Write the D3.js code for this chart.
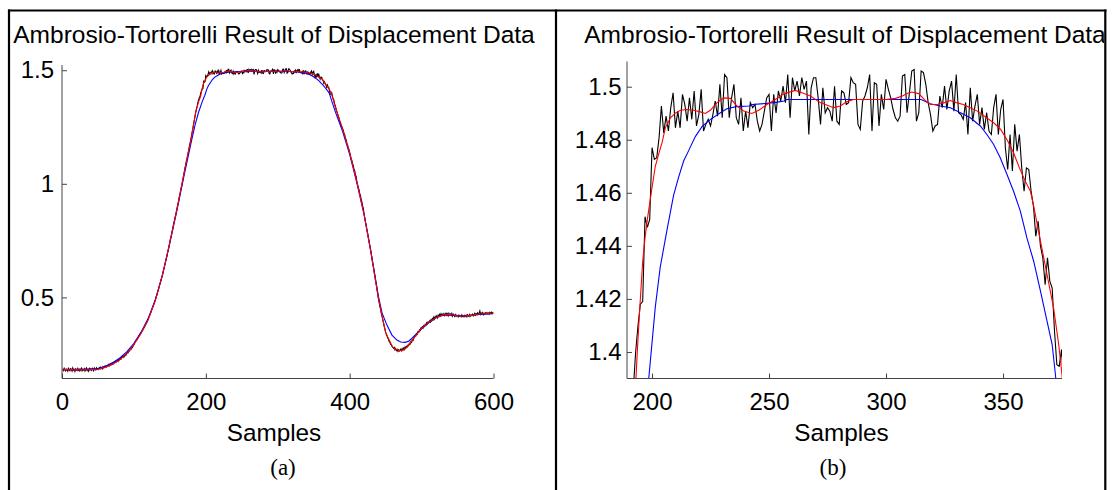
<!DOCTYPE html>
<html><head><meta charset="utf-8">
<script src="https://cdn.jsdelivr.net/npm/d3@7"></script>
<style>
html,body{margin:0;padding:0;background:#fff;}
svg{display:block;}
</style></head><body>
<svg id="chart" width="1113" height="490"></svg>
<script>
// ---------------- DATA ----------------
const chartTitle = "Ambrosio-Tortorelli Result of Displacement Data";
const xAxisLabel = "Samples";
const panelCaptions = ["(a)", "(b)"];

// raw displacement data, samples 1..600 (black)
const rawDisplacement = [
0.185,0.178,0.188,0.180,0.176,0.184,0.181,0.175,0.187,0.180,
0.177,0.186,0.183,0.176,0.189,0.179,0.182,0.174,0.185,0.181,
0.178,0.187,0.180,0.176,0.184,0.179,0.188,0.177,0.183,0.180,
0.186,0.176,0.183,0.189,0.178,0.182,0.175,0.187,0.181,0.184,
0.179,0.188,0.182,0.177,0.189,0.183,0.180,0.190,0.184,0.187,
0.183,0.191,0.186,0.193,0.188,0.185,0.195,0.190,0.197,0.193,
0.199,0.194,0.201,0.198,0.205,0.199,0.207,0.203,0.210,0.206,
0.213,0.208,0.216,0.219,0.214,0.221,0.224,0.218,0.227,0.225,
0.232,0.228,0.235,0.240,0.236,0.243,0.239,0.248,0.246,0.253,
0.259,0.257,0.266,0.264,0.272,0.271,0.280,0.279,0.287,0.292,
0.300,0.305,0.310,0.313,0.320,0.323,0.331,0.333,0.341,0.344,
0.352,0.354,0.362,0.366,0.372,0.377,0.385,0.390,0.397,0.404,
0.415,0.420,0.430,0.436,0.447,0.455,0.462,0.473,0.481,0.491,
0.503,0.510,0.524,0.532,0.545,0.557,0.566,0.580,0.590,0.604,
0.619,0.628,0.644,0.656,0.671,0.682,0.699,0.710,0.727,0.744,
0.761,0.772,0.790,0.802,0.820,0.833,0.849,0.862,0.878,0.893,
0.910,0.921,0.941,0.953,0.972,0.985,1.001,1.016,1.035,1.052,
1.070,1.082,1.101,1.113,1.131,1.144,1.163,1.176,1.193,1.209,
1.228,1.244,1.264,1.281,1.298,1.317,1.331,1.343,1.358,1.370,
1.379,1.386,1.400,1.410,1.418,1.419,1.451,1.447,1.450,1.477,
1.4726,1.4732,1.4807,1.4927,1.4826,1.4889,1.4833,1.4921,1.4977,1.4845,
1.4908,1.4845,1.4971,1.4933,1.4870,1.4958,1.4877,1.4984,1.4852,1.4895,
1.4990,1.4833,1.4858,1.4877,1.4852,1.4895,1.4946,1.4889,1.5009,1.4883,
1.5046,1.5034,1.4883,1.4958,1.5009,1.4883,1.4858,1.4958,1.4833,1.4908,
1.4845,1.4940,1.4921,1.4933,1.4870,1.4833,1.4858,1.4908,1.4958,1.4971,
1.4833,1.4971,1.4901,1.4984,1.4946,1.5002,1.4940,1.5046,1.4883,1.5034,
1.4984,1.5021,1.4965,1.5034,1.4990,1.5021,1.4820,1.4996,1.5034,1.5034,
1.4958,1.4858,1.4996,1.4901,1.4921,1.4908,1.4870,1.5002,1.4870,1.4858,
1.4984,1.4977,1.4933,1.4940,1.5034,1.5015,1.5009,1.4858,1.4839,1.4946,
1.4965,1.4996,1.5046,1.4833,1.5015,1.5009,1.4852,1.4971,1.4914,1.5028,
1.4990,1.4958,1.4914,1.4883,1.4870,1.4889,1.5040,1.5046,1.4902,1.4977,
1.5059,1.5065,1.4870,1.4902,1.5059,1.5053,1.5009,1.4940,1.4895,1.4833,
1.4852,1.4858,1.4965,1.4921,1.5002,1.4914,1.4984,1.5021,1.4908,1.5046,
1.4902,1.4895,1.4877,1.4940,1.4820,1.4996,1.4870,1.4927,1.4971,1.4858,
1.4921,1.4839,1.4902,1.4833,1.4820,1.4921,1.4971,1.4820,1.4914,1.4952,
1.4770,1.4688,1.4820,1.4682,1.4858,1.4757,1.4820,1.4694,1.4606,1.4694,
1.4688,1.4606,1.4550,1.4436,1.4493,1.4399,1.4355,1.4254,1.4355,1.4267,
1.4241,1.4078,1.3952,1.3946,1.4009,1.386,1.374,1.369,1.352,1.344,
1.331,1.318,1.312,1.297,1.291,1.277,1.271,1.256,1.252,1.244,
1.236,1.222,1.217,1.201,1.195,1.179,1.172,1.158,1.151,1.138,
1.126,1.110,1.104,1.088,1.081,1.064,1.058,1.040,1.033,1.010,
0.997,0.982,0.974,0.956,0.949,0.931,0.921,0.902,0.893,0.867,
0.850,0.831,0.816,0.797,0.782,0.763,0.747,0.727,0.711,0.690,
0.672,0.650,0.634,0.612,0.595,0.573,0.556,0.535,0.516,0.495,
0.478,0.462,0.447,0.430,0.417,0.401,0.388,0.372,0.361,0.346,
0.337,0.330,0.321,0.316,0.305,0.302,0.293,0.291,0.283,0.281,
0.276,0.280,0.269,0.275,0.266,0.271,0.263,0.270,0.264,0.267,
0.272,0.265,0.274,0.268,0.277,0.271,0.282,0.276,0.285,0.282,
0.290,0.287,0.297,0.294,0.305,0.302,0.312,0.310,0.320,0.324,
0.332,0.330,0.341,0.338,0.349,0.347,0.357,0.354,0.365,0.364,
0.371,0.365,0.376,0.372,0.381,0.377,0.388,0.383,0.392,0.389,
0.396,0.391,0.401,0.396,0.407,0.402,0.413,0.405,0.416,0.411,
0.418,0.410,0.421,0.416,0.425,0.419,0.428,0.421,0.426,0.423,
0.429,0.420,0.427,0.431,0.422,0.428,0.419,0.430,0.424,0.427,
0.421,0.429,0.418,0.426,0.420,0.416,0.424,0.417,0.422,0.418,
0.414,0.422,0.417,0.420,0.415,0.423,0.416,0.419,0.414,0.421,
0.417,0.422,0.415,0.424,0.419,0.416,0.425,0.418,0.423,0.420,
0.426,0.419,0.425,0.430,0.422,0.428,0.424,0.432,0.426,0.430,
0.440,0.425,0.431,0.427,0.433,0.424,0.430,0.426,0.432,0.428,
0.433,0.427,0.431,0.426,0.434,0.429,0.435,0.428,0.433,0.431
];

// Ambrosio-Tortorelli result (red): sample positions and values
const atSamples = [1,20,40,50,60,70,80,90,100,110,120,130,140,150,160,170,180,186,190,192,
193,194,195,196,197,198,199,200,201.4,202.8,204.3,205.7,207.8,209.9,212.1,214.9,217.8,220.6,222.8,224.9,
227.8,230.6,233.5,236.3,239.2,242.7,245.6,249.1,252.7,256.3,261.2,264.1,267.7,271.9,277.6,280.5,283,286,300,304,
307,309,311,314,317,319,322,325,327.5,330,333,336,339,342,346,349,352,354.5,357,359.5,
361.7,363.1,366,368.8,371.6,373.8,375.2,376,380,390,400,410,420,430,440,450,460,465,470,475,
480,490,500,510,520,530,540,550,560,570,580,590,600];
const atValues = [0.182,0.181,0.182,0.184,0.192,0.206,0.225,0.251,0.292,0.342,0.404,0.489,0.602,0.744,0.891,1.052,1.207,1.316,1.362,1.378,
1.388,1.405,1.420,1.434,1.443,1.450,1.456,1.462,1.470,1.4745,1.479,1.4845,1.4882,1.4900,1.4911,1.4914,1.4911,1.4905,1.4899,1.4911,
1.4940,1.4958,1.4956,1.4927,1.4908,1.4899,1.4911,1.4933,1.4952,1.4973,1.4986,1.4977,1.4965,1.4940,1.4921,1.4927,1.4942,1.4952,1.4952,1.4956,
1.4965,1.4974,1.4980,1.4974,1.4946,1.4933,1.4933,1.4940,1.4948,1.4940,1.4933,1.4921,1.4908,1.4889,1.4864,1.4839,1.4795,1.4751,1.4694,1.4644,
1.4606,1.4550,1.4418,1.4292,1.4166,1.4028,1.3914,1.383,1.338,1.244,1.136,1.008,0.865,0.690,0.495,0.346,0.280,0.270,0.266,0.270,
0.282,0.324,0.364,0.390,0.412,0.423,0.425,0.419,0.418,0.421,0.427,0.429,0.431];

// smoother reference fit (blue): sample positions and values
const smoothSamples = [1,30,50,60,70,80,90,100,110,120,130,140,150,160,170,180,185,190,195,198.6,
201.4,203.5,206.4,209.2,211.4,213.5,215.7,218.5,221.4,225,229.2,232,236,241.5,243,249,253.5,256.5,257.5,315,
318.9,323.2,327.5,331.8,336,340.3,343.1,346,348.8,351.7,354.5,357.4,360.2,363.1,366,368.8,371,372.4,375,380,
390,400,410,420,430,440,445,451.8,458.8,465.7,471,477,482,486.3,493.5,500,510,520,530,540,
550,560,570,580,590,600];
const smoothValues = [0.184,0.184,0.187,0.196,0.211,0.232,0.260,0.298,0.347,0.409,0.492,0.602,0.740,0.885,1.040,1.188,1.258,1.316,1.362,1.390,
1.417,1.432,1.446,1.459,1.466,1.472,1.476,1.4812,1.4850,1.4877,1.4902,1.4917,1.4925,1.4927,1.4933,1.4937,1.4942,1.4946,1.4952,1.4952,
1.4936,1.4927,1.4921,1.4902,1.4883,1.4852,1.4820,1.4782,1.4732,1.4669,1.4606,1.4531,1.4430,1.4342,1.4229,1.4116,1.4028,1.3914,1.365,1.318,
1.232,1.130,1.004,0.866,0.695,0.505,0.432,0.378,0.334,0.312,0.304,0.302,0.307,0.319,0.341,0.362,0.388,0.410,0.421,0.423,
0.420,0.419,0.420,0.425,0.427,0.429];

// axes
const xDomainA = [0, 600];
const yDomainA = [0.143, 1.523];
const xTicksA = [0, 200, 400, 600];
const xTickLabelsA = ["0", "200", "400", "600"];
const yTicksA = [0.5, 1, 1.5];
const yTickLabelsA = ["0.5", "1", "1.5"];

const xDomainB = [189.3, 375.2];
const yDomainB = [1.39, 1.5095];
const xTicksB = [200, 250, 300, 350];
const xTickLabelsB = ["200", "250", "300", "350"];
const yTicksB = [1.4, 1.42, 1.44, 1.46, 1.48, 1.5];
const yTickLabelsB = ["1.4", "1.42", "1.44", "1.46", "1.48", "1.5"];

// ---------------- LAYOUT ----------------
const svg = d3.select("#chart");
const SANS = "'Liberation Sans', Arial, Helvetica, sans-serif";
const SERIF = "'Liberation Serif', 'Times New Roman', serif";

const panels = [
  { left: 62, right: 493.5, top: 65, bottom: 378.5,
    xDomain: xDomainA, yDomain: yDomainA,
    xTicks: xTicksA, xLabels: xTickLabelsA, yTicks: yTicksA, yLabels: yTickLabelsA,
    titleX: 274, labelX: 274, captionX: 283, yPad: 8,
    clipRight: 555, caption: panelCaptions[0] },
  { left: 627, right: 1062, top: 61.5, bottom: 378.5,
    xDomain: xDomainB, yDomain: yDomainB,
    xTicks: xTicksB, xLabels: xTickLabelsB, yTicks: yTicksB, yLabels: yTickLabelsB,
    titleX: 845, labelX: 841.5, captionX: 833, yPad: 5.5,
    clipRight: 1104, caption: panelCaptions[1] }
];

const rawPoints = rawDisplacement.map((v, i) => [i + 1, v]);
const atPoints = atSamples.map((s, i) => [s, atValues[i]]);
const smoothPoints = smoothSamples.map((s, i) => [s, smoothValues[i]]);

const defs = svg.append("defs");

panels.forEach((p, pi) => {
  const x = d3.scaleLinear().domain(p.xDomain).range([p.left, p.right]);
  const y = d3.scaleLinear().domain(p.yDomain).range([p.bottom, p.top]);

  defs.append("clipPath").attr("id", "plot" + pi)
    .append("rect").attr("x", p.left).attr("y", p.top)
    .attr("width", p.right - p.left).attr("height", p.bottom - p.top);
  defs.append("clipPath").attr("id", "title" + pi)
    .append("rect").attr("x", pi === 0 ? 10 : 557).attr("y", 0)
    .attr("width", p.clipRight - (pi === 0 ? 10 : 557)).attr("height", 60);

  const g = svg.append("g");
  const line = d3.line().x(d => x(d[0])).y(d => y(d[1]));
  const plot = g.append("g").attr("clip-path", `url(#plot${pi})`);
  plot.append("path").datum(rawPoints).attr("d", line)
    .attr("fill", "none").attr("stroke", "#000").attr("stroke-width", 1.1);
  plot.append("path").datum(smoothPoints).attr("d", line)
    .attr("fill", "none").attr("stroke", "#0000ff").attr("stroke-width", 1.1);
  plot.append("path").datum(atPoints).attr("d", line)
    .attr("fill", "none").attr("stroke", "#ff0000").attr("stroke-width", 1.1);

  const xAxis = d3.axisBottom(x).tickValues(p.xTicks)
    .tickFormat((d, i) => p.xLabels[i]).tickSizeInner(-5).tickSizeOuter(0).tickPadding(14.5);
  const yAxis = d3.axisLeft(y).tickValues(p.yTicks)
    .tickFormat((d, i) => p.yLabels[i]).tickSizeInner(-5).tickSizeOuter(0).tickPadding(p.yPad);

  const gx = g.append("g").attr("transform", `translate(0,${p.bottom})`).call(xAxis);
  const gy = g.append("g").attr("transform", `translate(${p.left},0)`).call(yAxis);
  [gx, gy].forEach(a => {
    a.attr("font-family", SANS).attr("font-size", 24);
    a.selectAll("text").attr("fill", "#000");
    a.selectAll("path.domain").attr("stroke", "#444").attr("stroke-width", 1);
    a.selectAll(".tick line").attr("stroke", "#444");
  });
  gx.select("path.domain").attr("d", `M${p.left},0H${p.right}`);
  gy.select("path.domain").attr("d", `M0,${p.top}V${p.bottom}`);

  g.append("text").attr("clip-path", `url(#title${pi})`)
    .attr("x", p.titleX).attr("y", 43).attr("text-anchor", "middle")
    .attr("font-family", SANS).attr("font-size", 24.5).attr("fill", "#000")
    .text(chartTitle);
  g.append("text").attr("x", p.labelX).attr("y", 441).attr("text-anchor", "middle")
    .attr("font-family", SANS).attr("font-size", 24.3).attr("fill", "#000")
    .text(xAxisLabel);
  g.append("text").attr("x", p.captionX).attr("y", 475).attr("text-anchor", "middle")
    .attr("font-family", SERIF).attr("font-size", 23).attr("fill", "#000")
    .text(p.caption);
});

// frame lines
const frame = svg.append("g").attr("stroke", "#000").attr("stroke-width", 2.2);
frame.append("line").attr("x1", 8).attr("x2", 1106.5).attr("y1", 10.5).attr("y2", 10.5);
[9, 556, 1105.3].forEach(fx => {
  frame.append("line").attr("x1", fx).attr("x2", fx).attr("y1", 9.5).attr("y2", 490);
});
</script>
</body></html>
